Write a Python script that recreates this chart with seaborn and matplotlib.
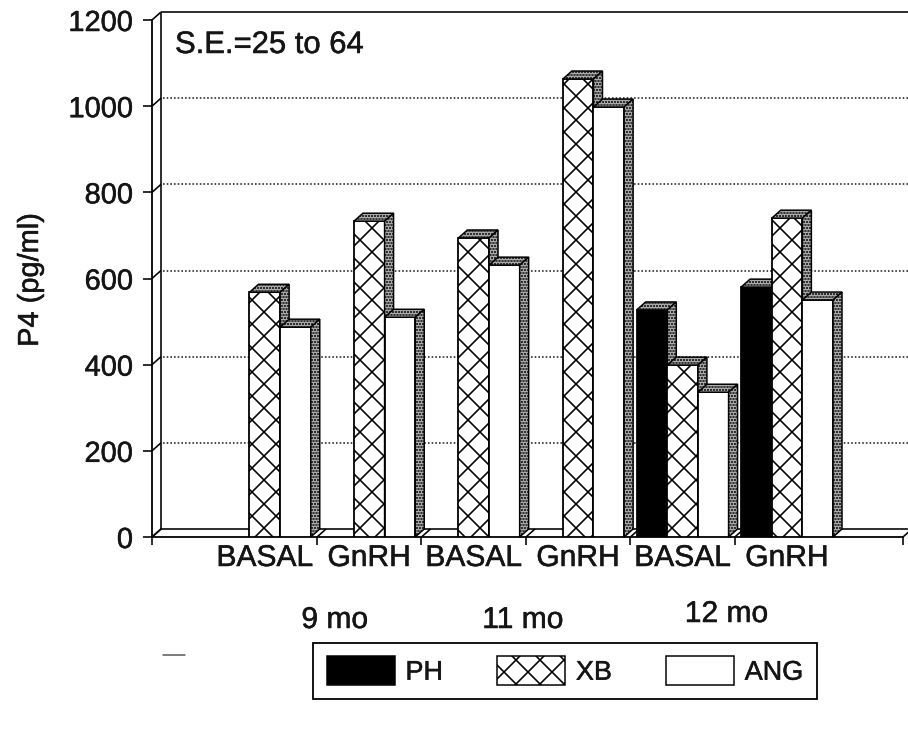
import numpy as np
import pandas as pd
import matplotlib
matplotlib.use("Agg")
import matplotlib.pyplot as plt
import matplotlib.transforms as mtransforms
import matplotlib.patheffects as pe
from matplotlib.patches import Polygon, Patch
from matplotlib.lines import Line2D
import seaborn as sns

# ---- data -------------------------------------------------------------
ages = ["9 mo", "11 mo", "12 mo"]
treatments = ["BASAL", "GnRH"]
breeds = ["PH", "XB", "ANG"]
ph_vals = [np.nan, np.nan, np.nan, np.nan, 527, 580]
xb_vals = [568, 733, 694, 1063, 399, 740]
ang_vals = [487, 510, 631, 998, 336, 550]
y_ticks = [0, 200, 400, 600, 800, 1000, 1200]
note = "S.E.=25 to 64"
y_title = "P4 (pg/ml)"

groups = [f"{a} {t}" for a in ages for t in treatments]
tick_labels = [t for a in ages for t in treatments]

df = pd.DataFrame({
    "group": groups * len(breeds),
    "breed": np.repeat(breeds, len(groups)),
    "p4": ph_vals + xb_vals + ang_vals,
})

# ---- figure -----------------------------------------------------------
DPI = 72
W, H = 908, 729
sns.set_theme(style="white")
plt.rcParams["font.family"] = ["Liberation Sans", "DejaVu Sans"]
plt.rcParams["hatch.linewidth"] = 1.6
plt.rcParams["hatch.color"] = "black"
plt.rcParams["text.color"] = "#151515"
plt.rcParams["xtick.color"] = "#151515"
plt.rcParams["ytick.color"] = "#151515"

ink = [pe.withStroke(linewidth=0.5, foreground="#151515")]

fig = plt.figure(figsize=(W / DPI, H / DPI), dpi=DPI)
fig.patch.set_facecolor("white")
# front plane of the 3-D box, in pixels
left_px, right_px, top_px, bottom_px = 152, 903, 20, 537
ax = fig.add_axes([left_px / W, 1 - bottom_px / H,
                   (right_px - left_px) / W, (bottom_px - top_px) / H])
ax.set_facecolor("none")

palette = {"PH": "black", "XB": "white", "ANG": "white"}
sns.barplot(data=df, x="group", y="p4", hue="breed", order=groups,
            hue_order=breeds, palette=palette, width=0.88, errorbar=None,
            edgecolor="black", linewidth=1.8, saturation=1, legend=False, ax=ax)

for lvl, cont in zip(breeds, ax.containers):
    if lvl == "XB":
        for bar in cont:
            bar.set_hatch("x")

xlo, xhi = -1.08, 6.11
ymax = y_ticks[-1]
ax.set_xlim(xlo, xhi)
ax.set_ylim(0, ymax)

# depth of the box expressed in data units (9 px right, 8 px up)
DX = 9 * (xhi - xlo) / (right_px - left_px)
DY = 8 * ymax / (bottom_px - top_px)

# ---- back wall, floor and grid ---------------------------------------
wall_kw = dict(color="black", lw=1.6, clip_on=False, zorder=1, solid_capstyle="butt")
ax.plot([xlo + DX] * 2, [DY, ymax + DY], **wall_kw)
ax.plot([xlo + DX, xhi + DX], [ymax + DY] * 2, **wall_kw)
ax.plot([xlo + DX, xhi + DX], [DY, DY], **wall_kw)
for v in y_ticks[1:-1]:
    ax.plot([xlo + DX + 0.02, xhi + DX], [v + DY] * 2, color="#222222", lw=1.6,
            ls=(0, (1, 1.3)), clip_on=False, zorder=0.8)
for v in y_ticks:
    ax.plot([xlo, xlo + DX], [v, v + DY], **wall_kw)
floor_ticks = [xlo, 0.5, 1.5, 2.5, 3.5, 4.5, xhi]
for xv in floor_ticks:
    ax.plot([xv, xv + DX], [0, DY], **wall_kw)

# ---- top and side faces of the bars ----------------------------------
shade = "#b4b4b4"
bars = [p for p in ax.patches if np.isfinite(p.get_height()) and p.get_height() > 0]
bars.sort(key=lambda p: p.get_x())
for i, b in enumerate(bars):
    x0, w, h = b.get_x(), b.get_width(), b.get_height()
    z = 3 + i * 0.01
    b.set_zorder(z)
    top = [(x0, h), (x0 + w, h), (x0 + w + DX, h + DY), (x0 + DX, h + DY)]
    side = [(x0 + w, 0), (x0 + w + DX, DY), (x0 + w + DX, h + DY), (x0 + w, h)]
    for verts in (top, side):
        ax.add_patch(Polygon(verts, closed=True, facecolor=shade, edgecolor="black",
                             lw=1.5, hatch="....", zorder=z, clip_on=False))

# ---- axes, ticks and labels ------------------------------------------
sns.despine(ax=ax)
for s in ("left", "bottom"):
    ax.spines[s].set_linewidth(1.8)
    ax.spines[s].set_color("black")
    ax.spines[s].set_zorder(2)

ax.set_yticks(y_ticks)
ax.tick_params(axis="y", which="major", left=True, length=9, width=1.6,
               color="black", pad=10, labelsize=29)
ax.set_xticks(range(len(groups)))
ax.set_xticklabels(tick_labels)
ax.tick_params(axis="x", which="major", bottom=True, length=0, pad=7, labelsize=30)
ax.set_xticks(floor_ticks, minor=True)
ax.tick_params(axis="x", which="minor", bottom=True, length=8, width=1.6, color="black")
ax.set_xlabel("")
ax.set_ylabel("")
for t in ax.get_xticklabels() + ax.get_yticklabels():
    t.set_path_effects(ink)

age_tr = mtransforms.blended_transform_factory(ax.transData, fig.transFigure)
age_pos = [(0.67, 620), (2.47, 620), (4.42, 614)]
for a, (xp, yp) in zip(ages, age_pos):
    ax.text(xp, 1 - yp / H, a, transform=age_tr, ha="center",
            va="center", fontsize=30, path_effects=ink)

fig.text(175 / W, 1 - 45 / H, note, ha="left", va="center", fontsize=31,
         path_effects=ink)
fig.text(30 / W, 1 - 280 / H, y_title, rotation=90, ha="center", va="center",
         fontsize=29, path_effects=ink)

# ---- legend -----------------------------------------------------------
handles = [Patch(facecolor="black", edgecolor="black", lw=1.5),
           Patch(facecolor="white", edgecolor="black", lw=1.5, hatch="x"),
           Patch(facecolor="white", edgecolor="black", lw=1.5)]
fs = 27
leg = fig.legend(handles, breeds, loc="center", bbox_to_anchor=(565 / W, 1 - 671 / H),
                 ncol=3, fontsize=fs, frameon=True, fancybox=False, framealpha=1,
                 edgecolor="black", handlelength=68 / fs, handleheight=34 / fs,
                 handletextpad=0.4, columnspacing=2.0, borderpad=0.5)
leg.get_frame().set_linewidth(1.8)
for t in leg.get_texts():
    t.set_path_effects(ink)

fig.add_artist(Line2D([163 / W, 185 / W], [1 - 655 / H] * 2, color="#555555", lw=1.5))

fig.savefig("out.png", dpi=DPI)
